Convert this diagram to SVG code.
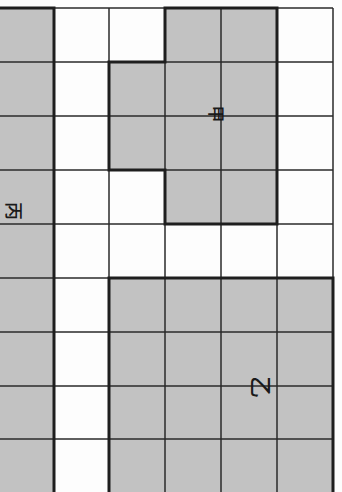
<svg xmlns="http://www.w3.org/2000/svg" width="342" height="492" viewBox="0 0 342 492">
<style>
.bg{fill:#fdfdfd}
.gray{fill:#c2c2c2}
.grid{stroke:#2a2a2a;stroke-width:1.5;fill:none}
.thick{stroke:#1e1e1e;stroke-width:3;fill:none;stroke-linejoin:miter}
.lbl{font-family:"Noto Sans CJK SC","Noto Sans CJK JP",sans-serif;fill:#1a1a1a;font-weight:500;text-anchor:middle;dominant-baseline:central}
</style>
<rect class="bg" x="0" y="0" width="342" height="492"/>
<g id="node-bing">
<rect class="gray" x="0" y="8" width="54" height="484"/>
</g>
<g id="node-jia">
<polygon class="gray" points="165,8 277,8 277,224 165,224 165,170 109,170 109,62 165,62"/>
</g>
<g id="node-yi">
<rect class="gray" x="109" y="278" width="224" height="214"/>
</g>
<g id="connectors">
<g class="grid">
<line x1="54" y1="8" x2="54" y2="492"/>
<line x1="109" y1="8" x2="109" y2="492"/>
<line x1="165" y1="8" x2="165" y2="492"/>
<line x1="221" y1="8" x2="221" y2="492"/>
<line x1="277" y1="8" x2="277" y2="492"/>
<line x1="333" y1="8" x2="333" y2="492"/>
<line x1="0" y1="8" x2="333" y2="8"/>
<line x1="0" y1="62" x2="333" y2="62"/>
<line x1="0" y1="116" x2="333" y2="116"/>
<line x1="0" y1="170" x2="333" y2="170"/>
<line x1="0" y1="224" x2="333" y2="224"/>
<line x1="0" y1="278" x2="333" y2="278"/>
<line x1="0" y1="332" x2="333" y2="332"/>
<line x1="0" y1="386" x2="333" y2="386"/>
<line x1="0" y1="439" x2="333" y2="439"/>
</g>
<g class="thick">
<polyline points="0,8 54,8 54,492"/>
<polygon points="165,8 277,8 277,224 165,224 165,170 109,170 109,62 165,62"/>
<polyline points="109,492 109,278 333,278 333,492"/>
</g>
</g>
<text class="lbl" font-size="18" transform="translate(15,211) rotate(90)">丙</text>
<text class="lbl" font-size="17" transform="translate(217,114) rotate(90)">甲</text>
<text class="lbl" font-size="22" transform="translate(263,387) rotate(90)">乙</text>
</svg>
